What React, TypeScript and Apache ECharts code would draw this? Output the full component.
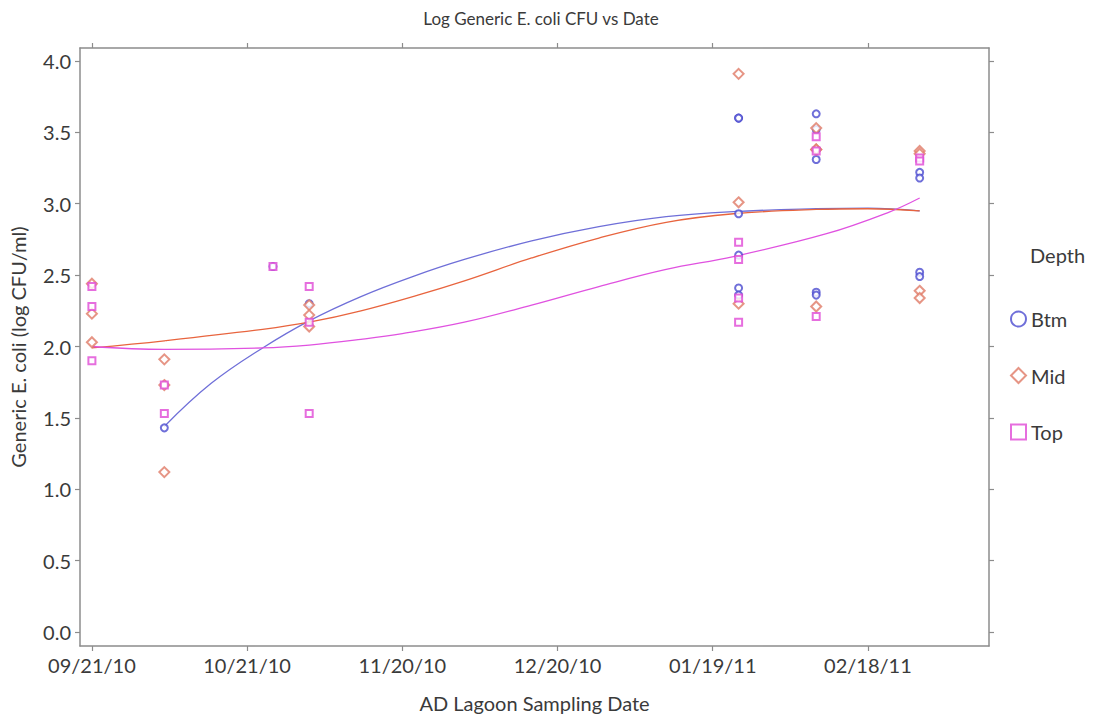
import React, { useEffect, useRef } from "react";
import * as echarts from "echarts";

// ---- Data ----
const xTickDates = ["09/21/10", "10/21/10", "11/20/10", "12/20/10", "01/19/11", "02/18/11"];
const yTicks = [0, 0.5, 1, 1.5, 2, 2.5, 3, 3.5, 4];

const btmDates = ["10/05/10", "10/26/10", "11/02/10", "01/24/11", "01/24/11", "01/24/11", "01/24/11", "01/24/11", "01/24/11", "02/08/11", "02/08/11", "02/08/11", "02/08/11", "02/08/11", "02/28/11", "02/28/11", "02/28/11", "02/28/11"];
const btmValues = [1.43, 2.56, 2.30, 3.60, 3.60, 2.93, 2.64, 2.41, 2.36, 3.63, 3.52, 3.31, 2.38, 2.36, 3.22, 3.18, 2.52, 2.49];

const midDates = ["09/21/10", "09/21/10", "09/21/10", "10/05/10", "10/05/10", "10/05/10", "11/02/10", "11/02/10", "11/02/10", "01/24/11", "01/24/11", "01/24/11", "02/08/11", "02/08/11", "02/08/11", "02/08/11", "02/28/11", "02/28/11", "02/28/11", "02/28/11"];
const midValues = [2.44, 2.23, 2.03, 1.91, 1.73, 1.12, 2.29, 2.22, 2.14, 3.91, 3.01, 2.30, 3.53, 3.38, 3.38, 2.28, 3.37, 3.35, 2.39, 2.34];

const topDates = ["09/21/10", "09/21/10", "09/21/10", "10/05/10", "10/05/10", "10/26/10", "11/02/10", "11/02/10", "11/02/10", "01/24/11", "01/24/11", "01/24/11", "01/24/11", "02/08/11", "02/08/11", "02/08/11", "02/28/11", "02/28/11"];
const topValues = [2.42, 2.28, 1.90, 1.73, 1.53, 2.56, 2.42, 2.17, 1.53, 2.73, 2.61, 2.34, 2.17, 3.47, 3.37, 2.21, 3.32, 3.30];

// Smoothed fit curves (days since 09/21/10, value)
const btmFitDays = [14, 23, 33, 42, 52, 62, 72, 85, 98, 111, 124, 140, 150, 160];
const btmFitValues = [1.44, 1.74, 1.99, 2.18, 2.35, 2.49, 2.61, 2.74, 2.84, 2.91, 2.945, 2.965, 2.97, 2.95];
const midFitDays = [0, 14, 33, 42, 52, 63, 72, 85, 98, 111, 124, 140, 150, 160];
const midFitValues = [1.99, 2.04, 2.12, 2.17, 2.25, 2.36, 2.46, 2.62, 2.76, 2.87, 2.93, 2.96, 2.965, 2.95];
const topFitDays = [0, 14, 33, 42, 52, 60, 72, 85, 98, 111, 124, 142, 154, 160];
const topFitValues = [2.0, 1.98, 1.99, 2.01, 2.05, 2.09, 2.17, 2.29, 2.42, 2.54, 2.63, 2.79, 2.94, 3.04];

const baseMs = Date.UTC(2010, 8, 21);
const DAY = 86400000;
function dayOf(s: string): number {
  const [m, d, y] = s.split("/").map(Number);
  return (Date.UTC(2000 + y, m - 1, d) - baseMs) / DAY;
}
function labelOf(day: number): string {
  const dt = new Date(baseMs + Math.round(day) * DAY);
  const p = (n: number) => (n < 10 ? "0" : "") + n;
  return p(dt.getUTCMonth() + 1) + "/" + p(dt.getUTCDate()) + "/" + p(dt.getUTCFullYear() % 100);
}
function pairs(xs: string[], ys: number[]) {
  return xs.map((x, i) => [dayOf(x), ys[i]]);
}
function fitPairs(xs: number[], ys: number[]) {
  return xs.map((x, i) => [x, ys[i]]);
}

const FONT = "Lato";
const AXIS_COLOR = "#8c8c8c";
const TEXT_COLOR = "#3a3a3a";
const xMin = -2.3;
const xMax = 173.4;
const yMin = -0.098;
const yMax = 4.091;
const xTickValues = xTickDates.map(dayOf);

export default function App() {
  const ref = useRef<HTMLDivElement>(null);
  useEffect(() => {
    if (!ref.current) return;
    const chart = echarts.init(ref.current, undefined, { renderer: "svg" });
    const baseX = {
      type: "value" as const,
      min: xMin,
      max: xMax,
      splitLine: { show: false },
      axisLine: { show: true, onZero: false, lineStyle: { color: AXIS_COLOR, width: 1.5 } },
      axisTick: { show: true, customValues: xTickValues, length: 5, lineStyle: { color: AXIS_COLOR, width: 1.2 } },
    };
    const baseY = {
      type: "value" as const,
      min: yMin,
      max: yMax,
      splitLine: { show: false },
      axisLine: { show: true, onZero: false, lineStyle: { color: AXIS_COLOR, width: 1.5 } },
      axisTick: { show: true, customValues: yTicks, length: 5, lineStyle: { color: AXIS_COLOR, width: 1.2 } },
    };
    chart.setOption({
      animation: false,
      backgroundColor: "#ffffff",
      title: {
        text: "Log Generic E. coli CFU vs Date",
        left: 536,
        textAlign: "center",
        top: 5,
        textStyle: { fontFamily: FONT, fontSize: 17, fontWeight: "normal", color: TEXT_COLOR },
      },
      grid: { left: 80, right: 110, top: 48, bottom: 73 },
      xAxis: [
        {
          ...baseX,
          position: "bottom",
          name: "AD Lagoon Sampling Date",
          nameLocation: "middle",
          nameGap: 47,
          nameTextStyle: { fontFamily: FONT, fontSize: 20, color: TEXT_COLOR },
          axisLabel: {
            customValues: xTickValues,
            formatter: (v: number) => labelOf(v),
            margin: 9,
            fontFamily: FONT,
            fontSize: 20,
            color: TEXT_COLOR,
          },
        },
        { ...baseX, position: "top", axisLabel: { show: false } },
      ],
      yAxis: [
        {
          ...baseY,
          position: "left",
          name: "Generic E. coli (log CFU/ml)",
          nameLocation: "middle",
          nameGap: 52,
          nameTextStyle: { fontFamily: FONT, fontSize: 20, color: TEXT_COLOR },
          axisLabel: {
            customValues: yTicks,
            formatter: (v: number) => v.toFixed(1),
            margin: 9,
            fontFamily: FONT,
            fontSize: 20,
            color: TEXT_COLOR,
          },
        },
        { ...baseY, position: "right", axisLabel: { show: false } },
      ],
      legend: {
        data: ["Btm", "Mid", "Top"],
        orient: "vertical",
        left: 1005,
        top: 304,
        itemWidth: 15,
        itemHeight: 15,
        itemGap: 36.5,
        textStyle: { fontFamily: FONT, fontSize: 20, color: TEXT_COLOR },
      },
      graphic: [
        {
          type: "text",
          left: 1030,
          top: 245,
          style: { text: "Depth", fontFamily: FONT, fontSize: 20, fill: TEXT_COLOR },
        },
      ],
      series: [
        {
          name: "Btm fit",
          type: "line",
          data: fitPairs(btmFitDays, btmFitValues),
          smooth: 0.4,
          showSymbol: false,
          lineStyle: { color: "#6f6fd8", width: 1.3 },
          z: 2,
        },
        {
          name: "Mid fit",
          type: "line",
          data: fitPairs(midFitDays, midFitValues),
          smooth: 0.4,
          showSymbol: false,
          lineStyle: { color: "#e8643e", width: 1.3 },
          z: 2,
        },
        {
          name: "Top fit",
          type: "line",
          data: fitPairs(topFitDays, topFitValues),
          smooth: 0.4,
          showSymbol: false,
          lineStyle: { color: "#e052e0", width: 1.3 },
          z: 2,
        },
        {
          name: "Btm",
          type: "scatter",
          symbol: "emptyCircle",
          symbolSize: 7,
          data: pairs(btmDates, btmValues),
          itemStyle: { color: "#4b4bcf", borderWidth: 1.1 },
          z: 3,
        },
        {
          name: "Mid",
          type: "scatter",
          symbol: "emptyDiamond",
          symbolSize: 10,
          data: pairs(midDates, midValues),
          itemStyle: { color: "#e07a66", borderWidth: 1.1 },
          z: 3,
        },
        {
          name: "Top",
          type: "scatter",
          symbol: "emptyRect",
          symbolSize: 7,
          data: pairs(topDates, topValues),
          itemStyle: { color: "#e04ad6", borderWidth: 1.1 },
          z: 3,
        },
      ],
    });
    return () => chart.dispose();
  }, []);
  return (
    <div
      ref={ref}
      style={{ position: "fixed", left: 0, top: 0, width: 1099, height: 719, background: "#fff" }}
    />
  );
}
